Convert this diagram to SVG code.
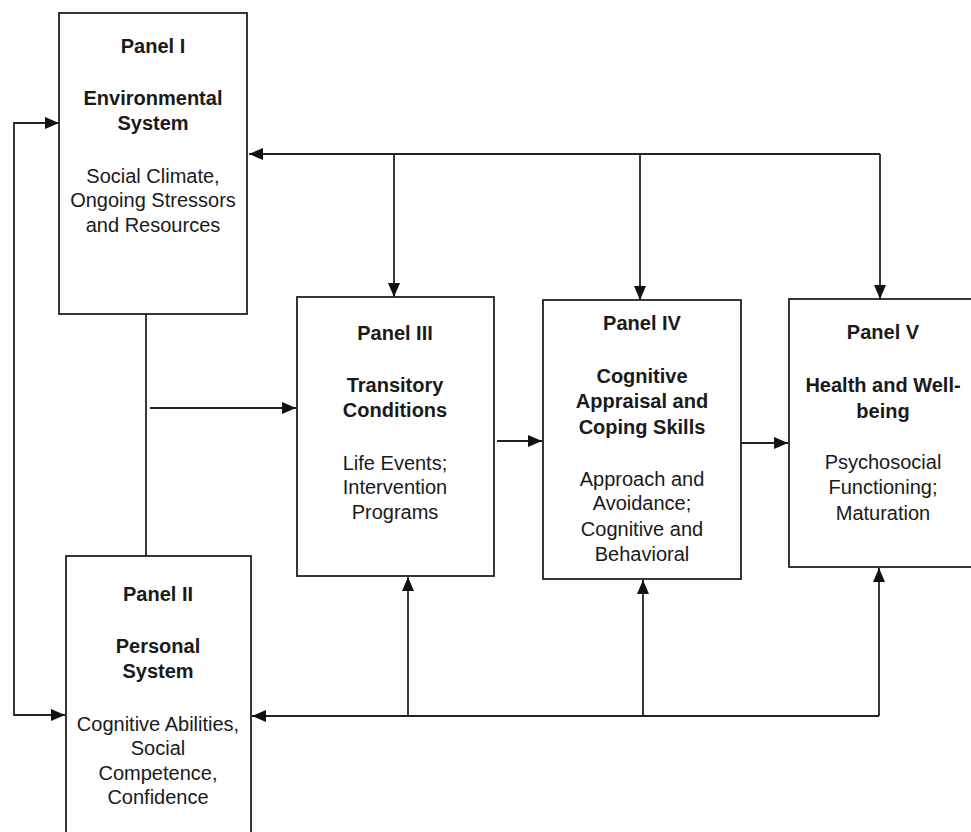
<svg xmlns="http://www.w3.org/2000/svg" width="971" height="832" viewBox="0 0 971 832">
<style>
.box{fill:#fff;stroke:#222;stroke-width:1.8}
.ln{fill:none;stroke:#222;stroke-width:1.8}
text{font-family:"Liberation Sans",Arial,sans-serif;font-size:20px;fill:#1a1a1a;text-anchor:middle}
.b{font-weight:bold}
</style>
<defs>
<marker id="ah" markerUnits="userSpaceOnUse" markerWidth="14" markerHeight="12" refX="14" refY="6" orient="auto-start-reverse" viewBox="0 0 14 12">
<path d="M0,0 L14,6 L0,12 z" fill="#111"/>
</marker>
</defs>
<g id="connectors">
<path class="ln" d="M880,154 H249" marker-end="url(#ah)"/>
<path class="ln" d="M394,154 V297" marker-end="url(#ah)"/>
<path class="ln" d="M640,154 V300" marker-end="url(#ah)"/>
<path class="ln" d="M880,154 V299" marker-end="url(#ah)"/>
<path class="ln" d="M879,716 H252" marker-end="url(#ah)"/>
<path class="ln" d="M408,716 V577" marker-end="url(#ah)"/>
<path class="ln" d="M643,716 V580" marker-end="url(#ah)"/>
<path class="ln" d="M879,716 V568" marker-end="url(#ah)"/>
<path class="ln" d="M59,123 H14 V715 H65" marker-start="url(#ah)" marker-end="url(#ah)"/>
<path class="ln" d="M146,314 V556"/>
<path class="ln" d="M150,408 H296" marker-end="url(#ah)"/>
<path class="ln" d="M497,441 H542" marker-end="url(#ah)"/>
<path class="ln" d="M741,443 H788" marker-end="url(#ah)"/>
</g>
<g id="panel1">
<rect class="box" x="59" y="13" width="188" height="301"/>
<text class="b" x="153" y="53">Panel I</text>
<text class="b" x="153" y="105">Environmental</text>
<text class="b" x="153" y="130">System</text>
<text x="153" y="183">Social Climate,</text>
<text x="153" y="207">Ongoing Stressors</text>
<text x="153" y="232">and Resources</text>
</g>
<g id="panel2">
<rect class="box" x="66" y="556" width="185" height="290"/>
<text class="b" x="158" y="601">Panel II</text>
<text class="b" x="158" y="653">Personal</text>
<text class="b" x="158" y="678">System</text>
<text x="158" y="731">Cognitive Abilities,</text>
<text x="158" y="755">Social</text>
<text x="158" y="780">Competence,</text>
<text x="158" y="804">Confidence</text>
</g>
<g id="panel3">
<rect class="box" x="297" y="297" width="197" height="279"/>
<text class="b" x="395" y="340">Panel III</text>
<text class="b" x="395" y="392">Transitory</text>
<text class="b" x="395" y="417">Conditions</text>
<text x="395" y="470">Life Events;</text>
<text x="395" y="494">Intervention</text>
<text x="395" y="519">Programs</text>
</g>
<g id="panel4">
<rect class="box" x="543" y="300" width="198" height="279"/>
<text class="b" x="642" y="330">Panel IV</text>
<text class="b" x="642" y="383">Cognitive</text>
<text class="b" x="642" y="408">Appraisal and</text>
<text class="b" x="642" y="434">Coping Skills</text>
<text x="642" y="486">Approach and</text>
<text x="642" y="510">Avoidance;</text>
<text x="642" y="536">Cognitive and</text>
<text x="642" y="561">Behavioral</text>
</g>
<g id="panel5">
<rect class="box" x="789" y="299" width="190" height="268"/>
<text class="b" x="883" y="339">Panel V</text>
<text class="b" x="883" y="392">Health and Well-</text>
<text class="b" x="883" y="418">being</text>
<text x="883" y="469">Psychosocial</text>
<text x="883" y="494">Functioning;</text>
<text x="883" y="520">Maturation</text>
</g>
</svg>
